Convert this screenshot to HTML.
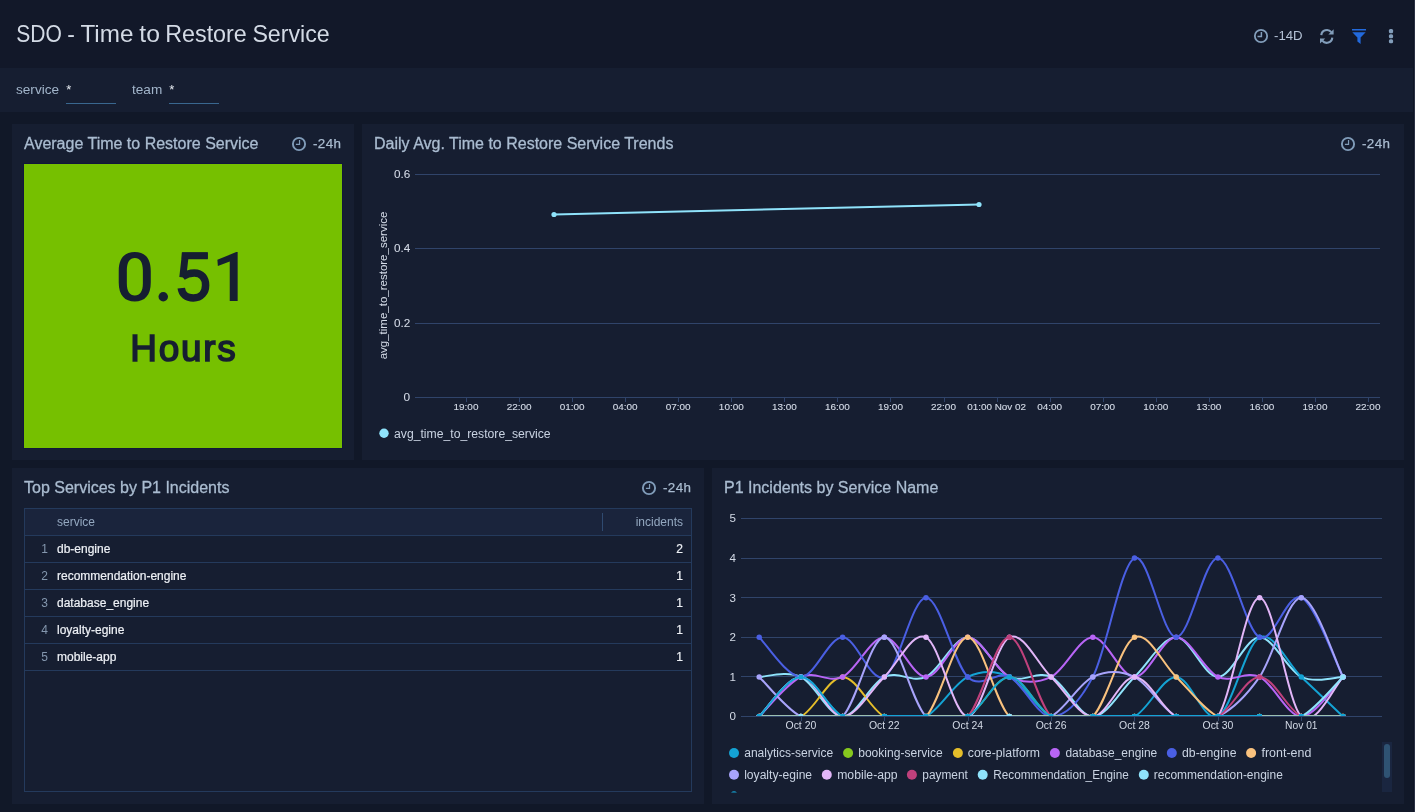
<!DOCTYPE html>
<html><head><meta charset="utf-8"><title>SDO - Time to Restore Service</title>
<style>
*{box-sizing:border-box}
html,body{margin:0;padding:0}
html{background:#111828}
body{transform:translateZ(0);will-change:transform;width:1415px;height:812px;overflow:hidden;background:#111828;font-family:"Liberation Sans",sans-serif;color:#c9d3e2;position:relative}
.hdr{position:absolute;left:0;top:0;width:1415px;height:68px;background:#121829}
.title{position:absolute;left:16px;top:20px;font-size:24.3px;line-height:28px;color:#d3dae5;white-space:nowrap;transform:scaleX(0.948);transform-origin:0 0}
.hicons{position:absolute;top:0;left:0}
.fbar{position:absolute;left:0;top:68px;width:1415px;height:44px;background:#161e31}
.fl{position:absolute;top:81.6px;font-size:13.6px;line-height:15px;color:#a2b5ca}
.fv{position:absolute;top:81.5px;font-size:13px;line-height:15px;color:#e6ebf1}
.ful{position:absolute;top:103px;height:1px;width:50px;background:#39678f}
.panel{position:absolute;background:#161e31}
.pt{position:absolute;font-size:16px;line-height:18px;color:#aabcd0;white-space:nowrap;-webkit-text-stroke:0.3px #aabcd0}
.tm{position:absolute;font-size:13.4px;line-height:16px;color:#aabcd0;white-space:nowrap;letter-spacing:0.4px;-webkit-text-stroke:0.25px #aabcd0}
.clk{position:absolute;color:#809cb9}
svg text{font-family:"Liberation Sans",sans-serif}
.yl{font-size:11px;fill:#d3dae6;stroke:#d3dae6;stroke-width:0.08px}
.yl2{font-size:11.6px;fill:#d3dae6}
.xl2{font-size:10.5px;fill:#d3dae6}
.xl{font-size:9.6px;fill:#d3dae6;stroke:#d3dae6;stroke-width:0.12px}
.big{position:absolute;left:24px;top:164px;width:318px;height:284px;background:#76c000;box-shadow:0 0 0 1px #11173a}
.big .v{position:absolute;left:0;width:318px;text-align:center;top:71px;font-size:71px;line-height:80px;color:#161e31;-webkit-text-stroke:0.7px #161e31;transform:scaleX(0.925);transform-origin:159px 0}
.big .u{position:absolute;left:0;width:318px;text-align:center;top:162px;font-size:36.9px;line-height:46px;color:#161e31;-webkit-text-stroke:1.6px #161e31;letter-spacing:1.8px;text-indent:1.8px}
.tbl{position:absolute;left:24px;top:508px;width:668px;height:284px;border:1px solid #243a5c}
.th{position:absolute;left:0;top:0;width:666px;height:27px;background:#1a243c;border-bottom:1px solid #243a5c;font-size:12px;color:#94a8c0}
.th .s{position:absolute;left:32px;top:6.2px;line-height:14px}
.th .v{position:absolute;right:8px;top:6.2px;line-height:14px}
.th .sep{position:absolute;left:577px;top:4px;width:1px;height:18px;background:#2f4a70}
.tr{position:absolute;left:0;width:666px;height:27px;border-bottom:1px solid #243a5c;font-size:12px;color:#eef1f6;-webkit-text-stroke:0.2px #eef1f6}
.tr .n{position:absolute;left:0;width:23px;text-align:right;top:6.2px;line-height:14px;color:#8497ae;-webkit-text-stroke:0}
.tr .s{position:absolute;left:32px;top:6.2px;line-height:14px}
.tr .v{position:absolute;right:8px;top:6.2px;line-height:14px}
.leg{position:absolute;left:729px;top:742px;width:650px;height:50.6px;overflow:hidden;font-size:12.08px;color:#c9d3e2}
.lrow{height:22px;white-space:nowrap}
.li{display:inline-block;margin-right:10.3px;line-height:22px;vertical-align:top}
.li i{display:inline-block;width:10px;height:10px;border-radius:50%;margin-right:5.2px;vertical-align:-0.8px}
</style></head><body>
<div class="hdr"></div>
<svg class="hicons" width="1415" height="68" viewBox="0 0 1415 68">
<text y="42.2" font-size="24.3" fill="#d3dae5"><tspan x="16.2" textLength="45.6" lengthAdjust="spacingAndGlyphs">SDO</tspan><tspan x="67.2" textLength="7.6" lengthAdjust="spacingAndGlyphs">-</tspan><tspan x="80.4" textLength="53" lengthAdjust="spacingAndGlyphs">Time</tspan><tspan x="139.3" textLength="20.6" lengthAdjust="spacingAndGlyphs">to</tspan><tspan x="165.2" textLength="81.6" lengthAdjust="spacingAndGlyphs">Restore</tspan><tspan x="252.4" textLength="77.4" lengthAdjust="spacingAndGlyphs">Service</tspan></text>
 <g fill="none" stroke="#829dba">
  <circle cx="1261" cy="36" r="6.15" stroke-width="1.8"/>
  <path d="M1261.4 32V36.4H1257.5" stroke-width="1.5"/>
 </g>
 <text x="1274" y="40.2" font-size="13.2" fill="#b4c2d6" style="-webkit-text-stroke:0.5px #b4c2d6">-14D</text>
 <g fill="none" stroke="#829dba" stroke-width="2.1">
  <path d="M1321.3 35.2A5.6 5.6 0 0 1 1331.3 32.2"/>
  <path d="M1332.3 37.6A5.6 5.6 0 0 1 1322.3 40.6"/>
 </g>
 <path d="M1333.6 29.2V34.4H1328.4Z" fill="#829dba"/>
 <path d="M1320 43.6V38.4H1325.2Z" fill="#829dba"/>
 <path d="M1352 29H1366V30.6H1352Z M1352.3 32.2H1365.7L1360.6 37.6V44L1357.4 41.4V37.6Z" fill="#2269db"/>
 <g fill="#829dba"><rect x="1388.9" y="29.1" width="4.2" height="4.1" rx="1.5"/><rect x="1388.9" y="34.2" width="4.2" height="4.1" rx="1.5"/><rect x="1388.9" y="39.2" width="4.2" height="4.1" rx="1.5"/></g>
</svg>
<div class="fbar"></div>
<div style="position:absolute;left:1414px;top:0;width:1px;height:812px;background:#2a3043;z-index:5"></div><div style="position:absolute;left:1413px;top:0;width:1px;height:812px;background:#0f1524;z-index:5"></div>
<div class="fl" style="left:16px">service</div><div class="fv" style="left:66.2px">*</div><div class="ful" style="left:66px"></div>
<div class="fl" style="left:132px">team</div><div class="fv" style="left:169.2px">*</div><div class="ful" style="left:169px"></div>

<div class="panel" style="left:12px;top:124px;width:342px;height:336px"></div>
<div class="panel" style="left:362px;top:124px;width:1042px;height:336px"></div>
<div class="panel" style="left:12px;top:468px;width:692px;height:336px"></div>
<div class="panel" style="left:712px;top:468px;width:692px;height:336px"></div>

<div class="pt" style="left:24px;top:135.4px">Average Time to Restore Service</div>
<svg class="clk" style="left:290.9px;top:136.1px" viewBox="0 0 16 16" width="16" height="16"><circle cx="8" cy="8" r="6.1" fill="none" stroke="currentColor" stroke-width="1.9"/><path d="M8.55 4.1V8.45H4.9" fill="none" stroke="currentColor" stroke-width="1.2"/></svg>
<div class="tm" style="left:313px;top:135.6px">-24h</div>
<div class="big"><div class="u">Hours</div></div>

<div class="pt" style="left:374px;top:135.4px">Daily Avg. Time to Restore Service Trends</div>
<svg class="clk" style="left:1339.9px;top:136.1px" viewBox="0 0 16 16" width="16" height="16"><circle cx="8" cy="8" r="6.1" fill="none" stroke="currentColor" stroke-width="1.9"/><path d="M8.55 4.1V8.45H4.9" fill="none" stroke="currentColor" stroke-width="1.2"/></svg>
<div class="tm" style="left:1362px;top:135.6px">-24h</div>
<svg style="position:absolute;left:0;top:0" width="1415" height="812" viewBox="0 0 1415 812">
<line x1="415" x2="1380" y1="174.5" y2="174.5" stroke="#30446a"/>
<text x="410.2" y="178.1" text-anchor="end" class="yl" textLength="16.3" lengthAdjust="spacingAndGlyphs">0.6</text>
<line x1="415" x2="1380" y1="248.5" y2="248.5" stroke="#30446a"/>
<text x="410.2" y="252.4" text-anchor="end" class="yl" textLength="16.3" lengthAdjust="spacingAndGlyphs">0.4</text>
<line x1="415" x2="1380" y1="323.5" y2="323.5" stroke="#30446a"/>
<text x="410.2" y="326.8" text-anchor="end" class="yl" textLength="16.3" lengthAdjust="spacingAndGlyphs">0.2</text>
<line x1="415" x2="1380" y1="397.5" y2="397.5" stroke="#30446a"/>
<text x="410.2" y="401.1" text-anchor="end" class="yl" textLength="6.6" lengthAdjust="spacingAndGlyphs">0</text>
<line x1="466.5" x2="466.5" y1="398" y2="402" stroke="#30446a"/>
<text x="466.0" y="410.1" text-anchor="middle" class="xl" textLength="24.9" lengthAdjust="spacingAndGlyphs">19:00</text>
<line x1="519.5" x2="519.5" y1="398" y2="402" stroke="#30446a"/>
<text x="519.1" y="410.1" text-anchor="middle" class="xl" textLength="24.9" lengthAdjust="spacingAndGlyphs">22:00</text>
<line x1="572.5" x2="572.5" y1="398" y2="402" stroke="#30446a"/>
<text x="572.1" y="410.1" text-anchor="middle" class="xl" textLength="24.9" lengthAdjust="spacingAndGlyphs">01:00</text>
<line x1="625.5" x2="625.5" y1="398" y2="402" stroke="#30446a"/>
<text x="625.2" y="410.1" text-anchor="middle" class="xl" textLength="24.9" lengthAdjust="spacingAndGlyphs">04:00</text>
<line x1="678.5" x2="678.5" y1="398" y2="402" stroke="#30446a"/>
<text x="678.2" y="410.1" text-anchor="middle" class="xl" textLength="24.9" lengthAdjust="spacingAndGlyphs">07:00</text>
<line x1="731.5" x2="731.5" y1="398" y2="402" stroke="#30446a"/>
<text x="731.3" y="410.1" text-anchor="middle" class="xl" textLength="24.9" lengthAdjust="spacingAndGlyphs">10:00</text>
<line x1="784.5" x2="784.5" y1="398" y2="402" stroke="#30446a"/>
<text x="784.4" y="410.1" text-anchor="middle" class="xl" textLength="24.9" lengthAdjust="spacingAndGlyphs">13:00</text>
<line x1="837.5" x2="837.5" y1="398" y2="402" stroke="#30446a"/>
<text x="837.4" y="410.1" text-anchor="middle" class="xl" textLength="24.9" lengthAdjust="spacingAndGlyphs">16:00</text>
<line x1="890.5" x2="890.5" y1="398" y2="402" stroke="#30446a"/>
<text x="890.5" y="410.1" text-anchor="middle" class="xl" textLength="24.9" lengthAdjust="spacingAndGlyphs">19:00</text>
<line x1="944.5" x2="944.5" y1="398" y2="402" stroke="#30446a"/>
<text x="943.5" y="410.1" text-anchor="middle" class="xl" textLength="24.9" lengthAdjust="spacingAndGlyphs">22:00</text>
<line x1="997.5" x2="997.5" y1="398" y2="402" stroke="#30446a"/>
<text x="996.6" y="410.1" text-anchor="middle" class="xl" textLength="58.8" lengthAdjust="spacingAndGlyphs">01:00 Nov 02</text>
<line x1="1050.5" x2="1050.5" y1="398" y2="402" stroke="#30446a"/>
<text x="1049.7" y="410.1" text-anchor="middle" class="xl" textLength="24.9" lengthAdjust="spacingAndGlyphs">04:00</text>
<line x1="1103.5" x2="1103.5" y1="398" y2="402" stroke="#30446a"/>
<text x="1102.7" y="410.1" text-anchor="middle" class="xl" textLength="24.9" lengthAdjust="spacingAndGlyphs">07:00</text>
<line x1="1156.5" x2="1156.5" y1="398" y2="402" stroke="#30446a"/>
<text x="1155.8" y="410.1" text-anchor="middle" class="xl" textLength="24.9" lengthAdjust="spacingAndGlyphs">10:00</text>
<line x1="1209.5" x2="1209.5" y1="398" y2="402" stroke="#30446a"/>
<text x="1208.8" y="410.1" text-anchor="middle" class="xl" textLength="24.9" lengthAdjust="spacingAndGlyphs">13:00</text>
<line x1="1262.5" x2="1262.5" y1="398" y2="402" stroke="#30446a"/>
<text x="1261.9" y="410.1" text-anchor="middle" class="xl" textLength="24.9" lengthAdjust="spacingAndGlyphs">16:00</text>
<line x1="1315.5" x2="1315.5" y1="398" y2="402" stroke="#30446a"/>
<text x="1315.0" y="410.1" text-anchor="middle" class="xl" textLength="24.9" lengthAdjust="spacingAndGlyphs">19:00</text>
<line x1="1368.5" x2="1368.5" y1="398" y2="402" stroke="#30446a"/>
<text x="1368.0" y="410.1" text-anchor="middle" class="xl" textLength="24.9" lengthAdjust="spacingAndGlyphs">22:00</text>
<text transform="translate(387.0,285.5) rotate(-90)" text-anchor="middle" font-size="11.5" fill="#d5dce8">avg_time_to_restore_service</text>
<path d="M554 214.5L979 204.5" stroke="#8fe3fb" stroke-width="2" fill="none"/>
<circle cx="554" cy="214.5" r="2.6" fill="#8fe3fb"/><circle cx="979" cy="204.5" r="2.6" fill="#8fe3fb"/>
<circle cx="384" cy="433.3" r="4.7" fill="#8fe3fb"/>
<text x="394" y="437.8" font-size="12" fill="#c9d3e2" textLength="156.6" lengthAdjust="spacingAndGlyphs">avg_time_to_restore_service</text>
<g transform="translate(112,245) scale(0.09894)" fill="#161e31">
<path fill-rule="evenodd" d="M68 262C68 132 130 70 230 70C330 70 392 132 392 262L392 380C392 510 330 572 230 572C130 572 68 510 68 380Z M150 255C150 172 180 131 231 131C282 131 312 172 312 255L312 387C312 470 282 511 231 511C180 511 150 470 150 387Z"/>
<circle cx="518" cy="523" r="48"/>
<path d="M968 108L740 108L715 327" fill="none" stroke="#161e31" stroke-width="70" stroke-linejoin="miter"/>
<path d="M705 76L968 76L968 140L705 140Z"/>
<path d="M712 322C752 292 790 282 832 282C906 282 946 338 946 406C946 480 900 535 822 535C752 535 708 500 700 436" fill="none" stroke="#161e31" stroke-width="76"/>
<path d="M1270 72L1256 72L1065 148L1070 212L1190 166L1190 566L1270 566Z"/>
</g>
<line x1="741" x2="1382" y1="716.5" y2="716.5" stroke="#30446a" stroke-width="1"/>
<line x1="741" x2="1382" y1="676.5" y2="676.5" stroke="#30446a" stroke-width="1"/>
<line x1="741" x2="1382" y1="637.5" y2="637.5" stroke="#30446a" stroke-width="1"/>
<line x1="741" x2="1382" y1="597.5" y2="597.5" stroke="#30446a" stroke-width="1"/>
<line x1="741" x2="1382" y1="558.5" y2="558.5" stroke="#30446a" stroke-width="1"/>
<line x1="741" x2="1382" y1="518.5" y2="518.5" stroke="#30446a" stroke-width="1"/>
<text x="735.9" y="720.3" text-anchor="end" class="yl2">0</text>
<text x="735.9" y="680.7" text-anchor="end" class="yl2">1</text>
<text x="735.9" y="641.1" text-anchor="end" class="yl2">2</text>
<text x="735.9" y="601.5" text-anchor="end" class="yl2">3</text>
<text x="735.9" y="561.9" text-anchor="end" class="yl2">4</text>
<text x="735.9" y="522.3" text-anchor="end" class="yl2">5</text>
<line x1="801.5" x2="801.5" y1="717" y2="721" stroke="#30446a"/>
<text x="800.9" y="729.2" text-anchor="middle" class="xl2" textLength="30.8" lengthAdjust="spacingAndGlyphs">Oct 20</text>
<line x1="884.5" x2="884.5" y1="717" y2="721" stroke="#30446a"/>
<text x="884.3" y="729.2" text-anchor="middle" class="xl2" textLength="30.8" lengthAdjust="spacingAndGlyphs">Oct 22</text>
<line x1="968.5" x2="968.5" y1="717" y2="721" stroke="#30446a"/>
<text x="967.7" y="729.2" text-anchor="middle" class="xl2" textLength="30.8" lengthAdjust="spacingAndGlyphs">Oct 24</text>
<line x1="1051.5" x2="1051.5" y1="717" y2="721" stroke="#30446a"/>
<text x="1051.1" y="729.2" text-anchor="middle" class="xl2" textLength="30.8" lengthAdjust="spacingAndGlyphs">Oct 26</text>
<line x1="1134.5" x2="1134.5" y1="717" y2="721" stroke="#30446a"/>
<text x="1134.5" y="729.2" text-anchor="middle" class="xl2" textLength="30.8" lengthAdjust="spacingAndGlyphs">Oct 28</text>
<line x1="1218.5" x2="1218.5" y1="717" y2="721" stroke="#30446a"/>
<text x="1217.9" y="729.2" text-anchor="middle" class="xl2" textLength="30.8" lengthAdjust="spacingAndGlyphs">Oct 30</text>
<line x1="1301.5" x2="1301.5" y1="717" y2="721" stroke="#30446a"/>
<text x="1301.3" y="729.2" text-anchor="middle" class="xl2" textLength="32.6" lengthAdjust="spacingAndGlyphs">Nov 01</text>
<clipPath id="cp2"><rect x="741" y="510" width="641" height="206"/></clipPath>
<g clip-path="url(#cp2)">
<path d="M759.20 676.90C766.15 676.90 787.00 670.30 800.90 676.90C814.80 683.50 828.70 716.50 842.60 716.50C856.50 716.50 870.40 683.50 884.30 676.90C898.20 670.30 912.10 683.50 926.00 676.90C939.90 670.30 953.80 637.30 967.70 637.30C981.60 637.30 995.50 670.30 1009.40 676.90C1023.30 683.50 1037.20 670.30 1051.10 676.90C1065.00 683.50 1078.90 716.50 1092.80 716.50C1106.70 716.50 1120.60 690.10 1134.50 676.90C1148.40 663.70 1162.30 637.30 1176.20 637.30C1190.10 637.30 1204.00 676.90 1217.90 676.90C1231.80 676.90 1245.70 637.30 1259.60 637.30C1273.50 637.30 1287.40 670.30 1301.30 676.90C1315.20 683.50 1336.05 676.90 1343.00 676.90" fill="none" stroke="#8fe3fb" stroke-width="2" stroke-linejoin="round" stroke-linecap="round"/>
<path d="M759.20 716.50C766.15 709.90 787.00 676.90 800.90 676.90C814.80 676.90 828.70 709.90 842.60 716.50C856.50 723.10 870.40 716.50 884.30 716.50C898.20 716.50 912.10 723.10 926.00 716.50C939.90 709.90 953.80 683.50 967.70 676.90C981.60 670.30 995.50 670.30 1009.40 676.90C1023.30 683.50 1037.20 709.90 1051.10 716.50C1065.00 723.10 1078.90 716.50 1092.80 716.50C1106.70 716.50 1120.60 723.10 1134.50 716.50C1148.40 709.90 1162.30 676.90 1176.20 676.90C1190.10 676.90 1204.00 723.10 1217.90 716.50C1231.80 709.90 1245.70 643.90 1259.60 637.30C1273.50 630.70 1287.40 663.70 1301.30 676.90C1315.20 690.10 1336.05 709.90 1343.00 716.50" fill="none" stroke="#14a3d4" stroke-width="2" stroke-linejoin="round" stroke-linecap="round"/>
<circle cx="759.20" cy="716.50" r="2.75" fill="#14a3d4"/>
<circle cx="800.90" cy="676.90" r="2.75" fill="#14a3d4"/>
<circle cx="842.60" cy="716.50" r="2.75" fill="#14a3d4"/>
<circle cx="884.30" cy="716.50" r="2.75" fill="#14a3d4"/>
<circle cx="926.00" cy="716.50" r="2.75" fill="#14a3d4"/>
<circle cx="967.70" cy="676.90" r="2.75" fill="#14a3d4"/>
<circle cx="1009.40" cy="676.90" r="2.75" fill="#14a3d4"/>
<circle cx="1051.10" cy="716.50" r="2.75" fill="#14a3d4"/>
<circle cx="1092.80" cy="716.50" r="2.75" fill="#14a3d4"/>
<circle cx="1134.50" cy="716.50" r="2.75" fill="#14a3d4"/>
<circle cx="1176.20" cy="676.90" r="2.75" fill="#14a3d4"/>
<circle cx="1217.90" cy="716.50" r="2.75" fill="#14a3d4"/>
<circle cx="1259.60" cy="637.30" r="2.75" fill="#14a3d4"/>
<circle cx="1301.30" cy="676.90" r="2.75" fill="#14a3d4"/>
<circle cx="1343.00" cy="716.50" r="2.75" fill="#14a3d4"/>
<path d="M759.20 716.50C766.15 716.50 787.00 716.50 800.90 716.50C814.80 716.50 828.70 716.50 842.60 716.50C856.50 716.50 870.40 716.50 884.30 716.50C898.20 716.50 912.10 716.50 926.00 716.50C939.90 716.50 953.80 723.10 967.70 716.50C981.60 709.90 995.50 676.90 1009.40 676.90C1023.30 676.90 1037.20 709.90 1051.10 716.50C1065.00 723.10 1078.90 716.50 1092.80 716.50C1106.70 716.50 1120.60 716.50 1134.50 716.50C1148.40 716.50 1162.30 716.50 1176.20 716.50C1190.10 716.50 1204.00 716.50 1217.90 716.50C1231.80 716.50 1245.70 716.50 1259.60 716.50C1273.50 716.50 1287.40 716.50 1301.30 716.50C1315.20 716.50 1336.05 716.50 1343.00 716.50" fill="none" stroke="#86c81e" stroke-width="2" stroke-linejoin="round" stroke-linecap="round"/>
<circle cx="759.20" cy="716.50" r="2.75" fill="#86c81e"/>
<circle cx="800.90" cy="716.50" r="2.75" fill="#86c81e"/>
<circle cx="842.60" cy="716.50" r="2.75" fill="#86c81e"/>
<circle cx="884.30" cy="716.50" r="2.75" fill="#86c81e"/>
<circle cx="926.00" cy="716.50" r="2.75" fill="#86c81e"/>
<circle cx="967.70" cy="716.50" r="2.75" fill="#86c81e"/>
<circle cx="1009.40" cy="676.90" r="2.75" fill="#86c81e"/>
<circle cx="1051.10" cy="716.50" r="2.75" fill="#86c81e"/>
<circle cx="1092.80" cy="716.50" r="2.75" fill="#86c81e"/>
<circle cx="1134.50" cy="716.50" r="2.75" fill="#86c81e"/>
<circle cx="1176.20" cy="716.50" r="2.75" fill="#86c81e"/>
<circle cx="1217.90" cy="716.50" r="2.75" fill="#86c81e"/>
<circle cx="1259.60" cy="716.50" r="2.75" fill="#86c81e"/>
<circle cx="1301.30" cy="716.50" r="2.75" fill="#86c81e"/>
<circle cx="1343.00" cy="716.50" r="2.75" fill="#86c81e"/>
<path d="M759.20 716.50C766.15 716.50 787.00 723.10 800.90 716.50C814.80 709.90 828.70 676.90 842.60 676.90C856.50 676.90 870.40 709.90 884.30 716.50C898.20 723.10 912.10 716.50 926.00 716.50C939.90 716.50 953.80 716.50 967.70 716.50C981.60 716.50 995.50 716.50 1009.40 716.50C1023.30 716.50 1037.20 716.50 1051.10 716.50C1065.00 716.50 1078.90 716.50 1092.80 716.50C1106.70 716.50 1120.60 716.50 1134.50 716.50C1148.40 716.50 1162.30 716.50 1176.20 716.50C1190.10 716.50 1204.00 716.50 1217.90 716.50C1231.80 716.50 1245.70 716.50 1259.60 716.50C1273.50 716.50 1287.40 716.50 1301.30 716.50C1315.20 716.50 1336.05 716.50 1343.00 716.50" fill="none" stroke="#e5be2a" stroke-width="2" stroke-linejoin="round" stroke-linecap="round"/>
<circle cx="759.20" cy="716.50" r="2.75" fill="#e5be2a"/>
<circle cx="800.90" cy="716.50" r="2.75" fill="#e5be2a"/>
<circle cx="842.60" cy="676.90" r="2.75" fill="#e5be2a"/>
<circle cx="884.30" cy="716.50" r="2.75" fill="#e5be2a"/>
<circle cx="926.00" cy="716.50" r="2.75" fill="#e5be2a"/>
<circle cx="967.70" cy="716.50" r="2.75" fill="#e5be2a"/>
<circle cx="1009.40" cy="716.50" r="2.75" fill="#e5be2a"/>
<circle cx="1051.10" cy="716.50" r="2.75" fill="#e5be2a"/>
<circle cx="1092.80" cy="716.50" r="2.75" fill="#e5be2a"/>
<circle cx="1134.50" cy="716.50" r="2.75" fill="#e5be2a"/>
<circle cx="1176.20" cy="716.50" r="2.75" fill="#e5be2a"/>
<circle cx="1217.90" cy="716.50" r="2.75" fill="#e5be2a"/>
<circle cx="1259.60" cy="716.50" r="2.75" fill="#e5be2a"/>
<circle cx="1301.30" cy="716.50" r="2.75" fill="#e5be2a"/>
<circle cx="1343.00" cy="716.50" r="2.75" fill="#e5be2a"/>
<path d="M759.20 716.50C766.15 709.90 787.00 683.50 800.90 676.90C814.80 670.30 828.70 683.50 842.60 676.90C856.50 670.30 870.40 637.30 884.30 637.30C898.20 637.30 912.10 676.90 926.00 676.90C939.90 676.90 953.80 637.30 967.70 637.30C981.60 637.30 995.50 670.30 1009.40 676.90C1023.30 683.50 1037.20 683.50 1051.10 676.90C1065.00 670.30 1078.90 637.30 1092.80 637.30C1106.70 637.30 1120.60 676.90 1134.50 676.90C1148.40 676.90 1162.30 637.30 1176.20 637.30C1190.10 637.30 1204.00 670.30 1217.90 676.90C1231.80 683.50 1245.70 670.30 1259.60 676.90C1273.50 683.50 1287.40 716.50 1301.30 716.50C1315.20 716.50 1336.05 683.50 1343.00 676.90" fill="none" stroke="#b865f6" stroke-width="2" stroke-linejoin="round" stroke-linecap="round"/>
<circle cx="759.20" cy="716.50" r="2.75" fill="#b865f6"/>
<circle cx="800.90" cy="676.90" r="2.75" fill="#b865f6"/>
<circle cx="842.60" cy="676.90" r="2.75" fill="#b865f6"/>
<circle cx="884.30" cy="637.30" r="2.75" fill="#b865f6"/>
<circle cx="926.00" cy="676.90" r="2.75" fill="#b865f6"/>
<circle cx="967.70" cy="637.30" r="2.75" fill="#b865f6"/>
<circle cx="1009.40" cy="676.90" r="2.75" fill="#b865f6"/>
<circle cx="1051.10" cy="676.90" r="2.75" fill="#b865f6"/>
<circle cx="1092.80" cy="637.30" r="2.75" fill="#b865f6"/>
<circle cx="1134.50" cy="676.90" r="2.75" fill="#b865f6"/>
<circle cx="1176.20" cy="637.30" r="2.75" fill="#b865f6"/>
<circle cx="1217.90" cy="676.90" r="2.75" fill="#b865f6"/>
<circle cx="1259.60" cy="676.90" r="2.75" fill="#b865f6"/>
<circle cx="1301.30" cy="716.50" r="2.75" fill="#b865f6"/>
<circle cx="1343.00" cy="676.90" r="2.75" fill="#b865f6"/>
<path d="M759.20 637.30C766.15 643.90 787.00 676.90 800.90 676.90C814.80 676.90 828.70 637.30 842.60 637.30C856.50 637.30 870.40 683.50 884.30 676.90C898.20 670.30 912.10 597.70 926.00 597.70C939.90 597.70 953.80 663.70 967.70 676.90C981.60 690.10 995.50 670.30 1009.40 676.90C1023.30 683.50 1037.20 716.50 1051.10 716.50C1065.00 716.50 1078.90 703.30 1092.80 676.90C1106.70 650.50 1120.60 564.70 1134.50 558.10C1148.40 551.50 1162.30 637.30 1176.20 637.30C1190.10 637.30 1204.00 558.10 1217.90 558.10C1231.80 558.10 1245.70 630.70 1259.60 637.30C1273.50 643.90 1287.40 591.10 1301.30 597.70C1315.20 604.30 1336.05 663.70 1343.00 676.90" fill="none" stroke="#4a5fe3" stroke-width="2" stroke-linejoin="round" stroke-linecap="round"/>
<circle cx="759.20" cy="637.30" r="2.75" fill="#4a5fe3"/>
<circle cx="800.90" cy="676.90" r="2.75" fill="#4a5fe3"/>
<circle cx="842.60" cy="637.30" r="2.75" fill="#4a5fe3"/>
<circle cx="884.30" cy="676.90" r="2.75" fill="#4a5fe3"/>
<circle cx="926.00" cy="597.70" r="2.75" fill="#4a5fe3"/>
<circle cx="967.70" cy="676.90" r="2.75" fill="#4a5fe3"/>
<circle cx="1009.40" cy="676.90" r="2.75" fill="#4a5fe3"/>
<circle cx="1051.10" cy="716.50" r="2.75" fill="#4a5fe3"/>
<circle cx="1092.80" cy="676.90" r="2.75" fill="#4a5fe3"/>
<circle cx="1134.50" cy="558.10" r="2.75" fill="#4a5fe3"/>
<circle cx="1176.20" cy="637.30" r="2.75" fill="#4a5fe3"/>
<circle cx="1217.90" cy="558.10" r="2.75" fill="#4a5fe3"/>
<circle cx="1259.60" cy="637.30" r="2.75" fill="#4a5fe3"/>
<circle cx="1301.30" cy="597.70" r="2.75" fill="#4a5fe3"/>
<circle cx="1343.00" cy="676.90" r="2.75" fill="#4a5fe3"/>
<path d="M759.20 716.50C766.15 716.50 787.00 716.50 800.90 716.50C814.80 716.50 828.70 716.50 842.60 716.50C856.50 716.50 870.40 716.50 884.30 716.50C898.20 716.50 912.10 729.70 926.00 716.50C939.90 703.30 953.80 637.30 967.70 637.30C981.60 637.30 995.50 703.30 1009.40 716.50C1023.30 729.70 1037.20 716.50 1051.10 716.50C1065.00 716.50 1078.90 729.70 1092.80 716.50C1106.70 703.30 1120.60 643.90 1134.50 637.30C1148.40 630.70 1162.30 663.70 1176.20 676.90C1190.10 690.10 1204.00 709.90 1217.90 716.50C1231.80 723.10 1245.70 716.50 1259.60 716.50C1273.50 716.50 1287.40 716.50 1301.30 716.50C1315.20 716.50 1336.05 716.50 1343.00 716.50" fill="none" stroke="#f9c27e" stroke-width="2" stroke-linejoin="round" stroke-linecap="round"/>
<circle cx="759.20" cy="716.50" r="2.75" fill="#f9c27e"/>
<circle cx="800.90" cy="716.50" r="2.75" fill="#f9c27e"/>
<circle cx="842.60" cy="716.50" r="2.75" fill="#f9c27e"/>
<circle cx="884.30" cy="716.50" r="2.75" fill="#f9c27e"/>
<circle cx="926.00" cy="716.50" r="2.75" fill="#f9c27e"/>
<circle cx="967.70" cy="637.30" r="2.75" fill="#f9c27e"/>
<circle cx="1009.40" cy="716.50" r="2.75" fill="#f9c27e"/>
<circle cx="1051.10" cy="716.50" r="2.75" fill="#f9c27e"/>
<circle cx="1092.80" cy="716.50" r="2.75" fill="#f9c27e"/>
<circle cx="1134.50" cy="637.30" r="2.75" fill="#f9c27e"/>
<circle cx="1176.20" cy="676.90" r="2.75" fill="#f9c27e"/>
<circle cx="1217.90" cy="716.50" r="2.75" fill="#f9c27e"/>
<circle cx="1259.60" cy="716.50" r="2.75" fill="#f9c27e"/>
<circle cx="1301.30" cy="716.50" r="2.75" fill="#f9c27e"/>
<circle cx="1343.00" cy="716.50" r="2.75" fill="#f9c27e"/>
<path d="M759.20 676.90C766.15 683.50 787.00 709.90 800.90 716.50C814.80 723.10 828.70 729.70 842.60 716.50C856.50 703.30 870.40 637.30 884.30 637.30C898.20 637.30 912.10 703.30 926.00 716.50C939.90 729.70 953.80 716.50 967.70 716.50C981.60 716.50 995.50 716.50 1009.40 716.50C1023.30 716.50 1037.20 723.10 1051.10 716.50C1065.00 709.90 1078.90 683.50 1092.80 676.90C1106.70 670.30 1120.60 670.30 1134.50 676.90C1148.40 683.50 1162.30 709.90 1176.20 716.50C1190.10 723.10 1204.00 723.10 1217.90 716.50C1231.80 709.90 1245.70 696.70 1259.60 676.90C1273.50 657.10 1287.40 597.70 1301.30 597.70C1315.20 597.70 1336.05 663.70 1343.00 676.90" fill="none" stroke="#a8a4fb" stroke-width="2" stroke-linejoin="round" stroke-linecap="round"/>
<circle cx="759.20" cy="676.90" r="2.75" fill="#a8a4fb"/>
<circle cx="800.90" cy="716.50" r="2.75" fill="#a8a4fb"/>
<circle cx="842.60" cy="716.50" r="2.75" fill="#a8a4fb"/>
<circle cx="884.30" cy="637.30" r="2.75" fill="#a8a4fb"/>
<circle cx="926.00" cy="716.50" r="2.75" fill="#a8a4fb"/>
<circle cx="967.70" cy="716.50" r="2.75" fill="#a8a4fb"/>
<circle cx="1009.40" cy="716.50" r="2.75" fill="#a8a4fb"/>
<circle cx="1051.10" cy="716.50" r="2.75" fill="#a8a4fb"/>
<circle cx="1092.80" cy="676.90" r="2.75" fill="#a8a4fb"/>
<circle cx="1134.50" cy="676.90" r="2.75" fill="#a8a4fb"/>
<circle cx="1176.20" cy="716.50" r="2.75" fill="#a8a4fb"/>
<circle cx="1217.90" cy="716.50" r="2.75" fill="#a8a4fb"/>
<circle cx="1259.60" cy="676.90" r="2.75" fill="#a8a4fb"/>
<circle cx="1301.30" cy="597.70" r="2.75" fill="#a8a4fb"/>
<circle cx="1343.00" cy="676.90" r="2.75" fill="#a8a4fb"/>
<path d="M759.20 716.50C766.15 709.90 787.00 676.90 800.90 676.90C814.80 676.90 828.70 716.50 842.60 716.50C856.50 716.50 870.40 690.10 884.30 676.90C898.20 663.70 912.10 630.70 926.00 637.30C939.90 643.90 953.80 716.50 967.70 716.50C981.60 716.50 995.50 643.90 1009.40 637.30C1023.30 630.70 1037.20 663.70 1051.10 676.90C1065.00 690.10 1078.90 716.50 1092.80 716.50C1106.70 716.50 1120.60 676.90 1134.50 676.90C1148.40 676.90 1162.30 709.90 1176.20 716.50C1190.10 723.10 1204.00 736.30 1217.90 716.50C1231.80 696.70 1245.70 597.70 1259.60 597.70C1273.50 597.70 1287.40 703.30 1301.30 716.50C1315.20 729.70 1336.05 683.50 1343.00 676.90" fill="none" stroke="#e2b6f8" stroke-width="2" stroke-linejoin="round" stroke-linecap="round"/>
<circle cx="759.20" cy="716.50" r="2.75" fill="#e2b6f8"/>
<circle cx="800.90" cy="676.90" r="2.75" fill="#e2b6f8"/>
<circle cx="842.60" cy="716.50" r="2.75" fill="#e2b6f8"/>
<circle cx="884.30" cy="676.90" r="2.75" fill="#e2b6f8"/>
<circle cx="926.00" cy="637.30" r="2.75" fill="#e2b6f8"/>
<circle cx="967.70" cy="716.50" r="2.75" fill="#e2b6f8"/>
<circle cx="1009.40" cy="637.30" r="2.75" fill="#e2b6f8"/>
<circle cx="1051.10" cy="676.90" r="2.75" fill="#e2b6f8"/>
<circle cx="1092.80" cy="716.50" r="2.75" fill="#e2b6f8"/>
<circle cx="1134.50" cy="676.90" r="2.75" fill="#e2b6f8"/>
<circle cx="1176.20" cy="716.50" r="2.75" fill="#e2b6f8"/>
<circle cx="1217.90" cy="716.50" r="2.75" fill="#e2b6f8"/>
<circle cx="1259.60" cy="597.70" r="2.75" fill="#e2b6f8"/>
<circle cx="1301.30" cy="716.50" r="2.75" fill="#e2b6f8"/>
<circle cx="1343.00" cy="676.90" r="2.75" fill="#e2b6f8"/>
<path d="M759.20 716.50C766.15 716.50 787.00 716.50 800.90 716.50C814.80 716.50 828.70 716.50 842.60 716.50C856.50 716.50 870.40 716.50 884.30 716.50C898.20 716.50 912.10 716.50 926.00 716.50C939.90 716.50 953.80 729.70 967.70 716.50C981.60 703.30 995.50 637.30 1009.40 637.30C1023.30 637.30 1037.20 703.30 1051.10 716.50C1065.00 729.70 1078.90 716.50 1092.80 716.50C1106.70 716.50 1120.60 716.50 1134.50 716.50C1148.40 716.50 1162.30 716.50 1176.20 716.50C1190.10 716.50 1204.00 723.10 1217.90 716.50C1231.80 709.90 1245.70 676.90 1259.60 676.90C1273.50 676.90 1287.40 709.90 1301.30 716.50C1315.20 723.10 1336.05 716.50 1343.00 716.50" fill="none" stroke="#c0417c" stroke-width="2" stroke-linejoin="round" stroke-linecap="round"/>
<circle cx="759.20" cy="716.50" r="2.75" fill="#c0417c"/>
<circle cx="800.90" cy="716.50" r="2.75" fill="#c0417c"/>
<circle cx="842.60" cy="716.50" r="2.75" fill="#c0417c"/>
<circle cx="884.30" cy="716.50" r="2.75" fill="#c0417c"/>
<circle cx="926.00" cy="716.50" r="2.75" fill="#c0417c"/>
<circle cx="967.70" cy="716.50" r="2.75" fill="#c0417c"/>
<circle cx="1009.40" cy="637.30" r="2.75" fill="#c0417c"/>
<circle cx="1051.10" cy="716.50" r="2.75" fill="#c0417c"/>
<circle cx="1092.80" cy="716.50" r="2.75" fill="#c0417c"/>
<circle cx="1134.50" cy="716.50" r="2.75" fill="#c0417c"/>
<circle cx="1176.20" cy="716.50" r="2.75" fill="#c0417c"/>
<circle cx="1217.90" cy="716.50" r="2.75" fill="#c0417c"/>
<circle cx="1259.60" cy="676.90" r="2.75" fill="#c0417c"/>
<circle cx="1301.30" cy="716.50" r="2.75" fill="#c0417c"/>
<circle cx="1343.00" cy="716.50" r="2.75" fill="#c0417c"/>
<path d="M759.20 716.50C766.15 716.50 787.00 716.50 800.90 716.50C814.80 716.50 828.70 716.50 842.60 716.50C856.50 716.50 870.40 716.50 884.30 716.50C898.20 716.50 912.10 716.50 926.00 716.50C939.90 716.50 953.80 716.50 967.70 716.50C981.60 716.50 995.50 716.50 1009.40 716.50C1023.30 716.50 1037.20 716.50 1051.10 716.50C1065.00 716.50 1078.90 716.50 1092.80 716.50C1106.70 716.50 1120.60 716.50 1134.50 716.50C1148.40 716.50 1162.30 716.50 1176.20 716.50C1190.10 716.50 1204.00 716.50 1217.90 716.50C1231.80 716.50 1245.70 716.50 1259.60 716.50C1273.50 716.50 1287.40 723.10 1301.30 716.50C1315.20 709.90 1336.05 683.50 1343.00 676.90" fill="none" stroke="#8fe3fb" stroke-width="2" stroke-linejoin="round" stroke-linecap="round"/>
<circle cx="759.20" cy="716.50" r="2.75" fill="#8fe3fb"/>
<circle cx="800.90" cy="716.50" r="2.75" fill="#8fe3fb"/>
<circle cx="842.60" cy="716.50" r="2.75" fill="#8fe3fb"/>
<circle cx="884.30" cy="716.50" r="2.75" fill="#8fe3fb"/>
<circle cx="926.00" cy="716.50" r="2.75" fill="#8fe3fb"/>
<circle cx="967.70" cy="716.50" r="2.75" fill="#8fe3fb"/>
<circle cx="1009.40" cy="716.50" r="2.75" fill="#8fe3fb"/>
<circle cx="1051.10" cy="716.50" r="2.75" fill="#8fe3fb"/>
<circle cx="1092.80" cy="716.50" r="2.75" fill="#8fe3fb"/>
<circle cx="1134.50" cy="716.50" r="2.75" fill="#8fe3fb"/>
<circle cx="1176.20" cy="716.50" r="2.75" fill="#8fe3fb"/>
<circle cx="1217.90" cy="716.50" r="2.75" fill="#8fe3fb"/>
<circle cx="1259.60" cy="716.50" r="2.75" fill="#8fe3fb"/>
<circle cx="1301.30" cy="716.50" r="2.75" fill="#8fe3fb"/>
<circle cx="1343.00" cy="676.90" r="2.75" fill="#8fe3fb"/>
<path d="M759.20 716.50C766.15 709.90 787.00 676.90 800.90 676.90C814.80 676.90 828.70 709.90 842.60 716.50C856.50 723.10 870.40 716.50 884.30 716.50C898.20 716.50 912.10 716.50 926.00 716.50C939.90 716.50 953.80 723.10 967.70 716.50C981.60 709.90 995.50 676.90 1009.40 676.90C1023.30 676.90 1037.20 709.90 1051.10 716.50C1065.00 723.10 1078.90 716.50 1092.80 716.50C1106.70 716.50 1120.60 716.50 1134.50 716.50C1148.40 716.50 1162.30 716.50 1176.20 716.50C1190.10 716.50 1204.00 716.50 1217.90 716.50C1231.80 716.50 1245.70 716.50 1259.60 716.50C1273.50 716.50 1287.40 716.50 1301.30 716.50C1315.20 716.50 1336.05 716.50 1343.00 716.50" fill="none" stroke="#14a3d4" stroke-width="2" stroke-linejoin="round" stroke-linecap="round"/>
<rect x="756.90" y="714.20" width="4.6" height="4.6" fill="#14a3d4"/>
<rect x="798.60" y="674.60" width="4.6" height="4.6" fill="#14a3d4"/>
<rect x="840.30" y="714.20" width="4.6" height="4.6" fill="#14a3d4"/>
<rect x="882.00" y="714.20" width="4.6" height="4.6" fill="#14a3d4"/>
<rect x="923.70" y="714.20" width="4.6" height="4.6" fill="#14a3d4"/>
<rect x="965.40" y="714.20" width="4.6" height="4.6" fill="#14a3d4"/>
<rect x="1007.10" y="674.60" width="4.6" height="4.6" fill="#14a3d4"/>
<rect x="1048.80" y="714.20" width="4.6" height="4.6" fill="#14a3d4"/>
<rect x="1090.50" y="714.20" width="4.6" height="4.6" fill="#14a3d4"/>
<rect x="1132.20" y="714.20" width="4.6" height="4.6" fill="#14a3d4"/>
<rect x="1173.90" y="714.20" width="4.6" height="4.6" fill="#14a3d4"/>
<rect x="1215.60" y="714.20" width="4.6" height="4.6" fill="#14a3d4"/>
<rect x="1257.30" y="714.20" width="4.6" height="4.6" fill="#14a3d4"/>
<rect x="1299.00" y="714.20" width="4.6" height="4.6" fill="#14a3d4"/>
<rect x="1340.70" y="714.20" width="4.6" height="4.6" fill="#14a3d4"/>
<rect x="759.20" y="715" width="125.10" height="1" fill="#9cc0b2"/>
<rect x="884.30" y="715" width="41.70" height="1" fill="#14a3d4"/>
<rect x="926.00" y="715" width="41.70" height="1" fill="#9cc0b2"/>
<rect x="967.70" y="715" width="41.70" height="1" fill="#8fcbe8"/>
<rect x="1009.40" y="715" width="83.40" height="1" fill="#9cc0b2"/>
<rect x="1092.80" y="715" width="166.80" height="1" fill="#14a3d4"/>
<rect x="1259.60" y="715" width="83.40" height="1" fill="#9cc0b2"/>
<rect x="756.80" y="714.10" width="4.8" height="4.8" rx="0.8" fill="#14a3d4"/>
<circle cx="800.90" cy="716.50" r="2.7" fill="#8fe3fb"/>
<rect x="840.20" y="714.10" width="4.8" height="4.8" rx="0.8" fill="#14a3d4"/>
<rect x="881.90" y="714.10" width="4.8" height="4.8" rx="0.8" fill="#14a3d4"/>
<rect x="923.60" y="714.10" width="4.8" height="4.8" rx="0.8" fill="#14a3d4"/>
<rect x="965.30" y="714.10" width="4.8" height="4.8" rx="0.8" fill="#14a3d4"/>
<circle cx="1009.40" cy="716.50" r="2.7" fill="#8fe3fb"/>
<rect x="1048.70" y="714.10" width="4.8" height="4.8" rx="0.8" fill="#14a3d4"/>
<rect x="1090.40" y="714.10" width="4.8" height="4.8" rx="0.8" fill="#14a3d4"/>
<rect x="1132.10" y="714.10" width="4.8" height="4.8" rx="0.8" fill="#14a3d4"/>
<rect x="1173.80" y="714.10" width="4.8" height="4.8" rx="0.8" fill="#14a3d4"/>
<rect x="1215.50" y="714.10" width="4.8" height="4.8" rx="0.8" fill="#14a3d4"/>
<rect x="1257.20" y="714.10" width="4.8" height="4.8" rx="0.8" fill="#14a3d4"/>
<rect x="1298.90" y="714.10" width="4.8" height="4.8" rx="0.8" fill="#14a3d4"/>
<rect x="1340.60" y="714.10" width="4.8" height="4.8" rx="0.8" fill="#14a3d4"/>
</g>
<circle cx="734.0" cy="753.0" r="5" fill="#14a3d4"/><text x="744.2" y="757.3" font-size="12" fill="#c9d3e2" textLength="89.0" lengthAdjust="spacingAndGlyphs">analytics-service</text>
<circle cx="848.1" cy="753.0" r="5" fill="#86c81e"/><text x="858.2" y="757.3" font-size="12" fill="#c9d3e2" textLength="84.5" lengthAdjust="spacingAndGlyphs">booking-service</text>
<circle cx="957.9" cy="753.0" r="5" fill="#e5be2a"/><text x="967.8" y="757.3" font-size="12" fill="#c9d3e2" textLength="72.3" lengthAdjust="spacingAndGlyphs">core-platform</text>
<circle cx="1054.9" cy="753.0" r="5" fill="#b865f6"/><text x="1065.4" y="757.3" font-size="12" fill="#c9d3e2" textLength="91.9" lengthAdjust="spacingAndGlyphs">database_engine</text>
<circle cx="1171.8" cy="753.0" r="5" fill="#4a5fe3"/><text x="1182.0" y="757.3" font-size="12" fill="#c9d3e2" textLength="54.5" lengthAdjust="spacingAndGlyphs">db-engine</text>
<circle cx="1251.1" cy="753.0" r="5" fill="#f9c27e"/><text x="1261.5" y="757.3" font-size="12" fill="#c9d3e2" textLength="49.8" lengthAdjust="spacingAndGlyphs">front-end</text>
<circle cx="734.0" cy="774.8" r="5" fill="#a8a4fb"/><text x="744.2" y="779.1" font-size="12" fill="#c9d3e2" textLength="67.9" lengthAdjust="spacingAndGlyphs">loyalty-egine</text>
<circle cx="826.8" cy="774.8" r="5" fill="#e2b6f8"/><text x="837.2" y="779.1" font-size="12" fill="#c9d3e2" textLength="60.4" lengthAdjust="spacingAndGlyphs">mobile-app</text>
<circle cx="911.9" cy="774.8" r="5" fill="#c0417c"/><text x="922.3" y="779.1" font-size="12" fill="#c9d3e2" textLength="45.6" lengthAdjust="spacingAndGlyphs">payment</text>
<circle cx="982.7" cy="774.8" r="5" fill="#8fe3fb"/><text x="993.3" y="779.1" font-size="12" fill="#c9d3e2" textLength="135.5" lengthAdjust="spacingAndGlyphs">Recommendation_Engine</text>
<circle cx="1143.8" cy="774.8" r="5" fill="#8fe3fb"/><text x="1153.8" y="779.1" font-size="12" fill="#c9d3e2" textLength="129.0" lengthAdjust="spacingAndGlyphs">recommendation-engine</text>
<path d="M731 792.6A4.6 4.6 0 0 1 737 792.6Z" fill="#14a3d4"/>
<rect x="1382" y="742" width="10" height="50" fill="#1a2640"/>
<rect x="1384" y="744" width="6" height="34" rx="3" fill="#2f5373"/>
</svg>

<div class="pt" style="left:24px;top:479.4px">Top Services by P1 Incidents</div>
<svg class="clk" style="left:640.9px;top:480.1px" viewBox="0 0 16 16" width="16" height="16"><circle cx="8" cy="8" r="6.1" fill="none" stroke="currentColor" stroke-width="1.9"/><path d="M8.55 4.1V8.45H4.9" fill="none" stroke="currentColor" stroke-width="1.2"/></svg>
<div class="tm" style="left:663px;top:479.6px">-24h</div>
<div class="tbl"><div class="th"><span class="s">service</span><span class="sep"></span><span class="v">incidents</span></div>
<div class="tr" style="top:27px"><span class="n">1</span><span class="s">db-engine</span><span class="v">2</span></div><div class="tr" style="top:54px"><span class="n">2</span><span class="s">recommendation-engine</span><span class="v">1</span></div><div class="tr" style="top:81px"><span class="n">3</span><span class="s">database_engine</span><span class="v">1</span></div><div class="tr" style="top:108px"><span class="n">4</span><span class="s">loyalty-egine</span><span class="v">1</span></div><div class="tr" style="top:135px"><span class="n">5</span><span class="s">mobile-app</span><span class="v">1</span></div>
</div>
<div class="pt" style="left:724px;top:479.4px">P1 Incidents by Service Name</div>
</body></html>
